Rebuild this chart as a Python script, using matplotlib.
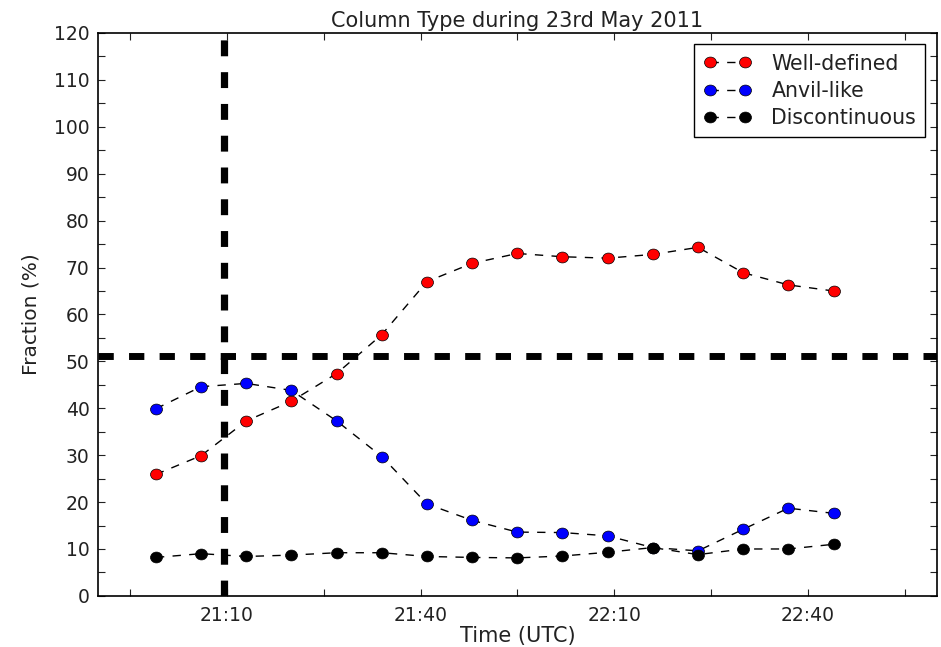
import matplotlib
matplotlib.use("Agg")
import matplotlib.pyplot as plt
from matplotlib.path import Path
from matplotlib.transforms import Affine2D
from matplotlib.ticker import FixedLocator, FuncFormatter

plt.rcParams["font.family"] = ["DejaVu Sans"]

# ---- data ----
times = ["20:59", "21:06", "21:13", "21:20", "21:27", "21:34", "21:41", "21:48",
         "21:55", "22:02", "22:09", "22:16", "22:23", "22:30", "22:37", "22:44"]
well_defined = [25.9, 29.9, 37.3, 41.5, 47.4, 55.7, 67.0, 70.9,
                73.0, 72.3, 72.0, 72.8, 74.3, 68.9, 66.3, 65.0]
anvil_like = [39.9, 44.6, 45.3, 43.8, 37.3, 29.7, 19.6, 16.1,
              13.6, 13.5, 12.8, 10.3, 9.6, 14.2, 18.7, 17.6]
discontinuous = [8.2, 9.0, 8.4, 8.7, 9.2, 9.2, 8.4, 8.2,
                 8.1, 8.5, 9.3, 10.3, 8.8, 10.0, 10.0, 11.0]
threshold_time = "21:09.6"
threshold_fraction = 51.2
x_limits = ["20:50", "23:00"]
x_ticks = ["20:55", "21:10", "21:25", "21:40", "21:55", "22:10", "22:25", "22:40", "22:55"]
x_labeled = ["21:10", "21:40", "22:10", "22:40"]


def to_min(s):
    h, m = s.split(":")
    return int(h) * 60 + float(m)


x = [to_min(t) for t in times]

# slightly wide ellipse marker (reference image is horizontally stretched)
ellipse = Path.unit_circle().transformed(Affine2D().scale(1.1, 1.0))

fig = plt.figure(figsize=(9.41, 6.47), dpi=100)
ax = fig.add_axes([0.104, 0.079, 0.8915, 0.870])

series = [(well_defined, "red", "Well-defined"),
          (anvil_like, "blue", "Anvil-like"),
          (discontinuous, "black", "Discontinuous")]
for vals, col, lab in series:
    ax.plot(x, vals, linestyle=(0, (6, 6)), color="black", lw=1.0,
            marker=ellipse, markersize=8.6, markerfacecolor=col,
            markeredgecolor="black", markeredgewidth=0.5, label=lab)

ax.axhline(threshold_fraction, color="black", lw=5, linestyle=(0, (2.2, 2.2)))
ax.axvline(to_min(threshold_time), color="black", lw=5.2, linestyle=(0, (2.2, 2.2)))

ax.set_xlim(to_min(x_limits[0]), to_min(x_limits[1]))
ax.set_ylim(0, 120)

ax.xaxis.set_major_locator(FixedLocator([to_min(t) for t in x_ticks]))
lab_set = set(to_min(t) for t in x_labeled)


def xfmt(v, pos):
    if any(abs(v - l) < 1e-6 for l in lab_set):
        return "%d:%02d" % (int(v // 60), int(round(v % 60)))
    return ""


ax.xaxis.set_major_formatter(FuncFormatter(xfmt))
ax.yaxis.set_major_locator(FixedLocator(list(range(0, 121, 5))))
ax.yaxis.set_major_formatter(FuncFormatter(lambda v, p: "%d" % v if int(v) % 10 == 0 else ""))

ax.tick_params(direction="in", length=5, width=0.8, top=True, right=True,
               labelsize=13.5, pad=6, colors="#222222")
ax.tick_params(axis="x", pad=7)
for sp in ax.spines.values():
    sp.set_linewidth(1.2)

ax.set_xlabel("Time (UTC)", fontsize=15, labelpad=1, color="#222222")
ax.set_ylabel("Fraction (%)", fontsize=14.5, labelpad=10, color="#222222")
ax.set_title("Column Type during 23rd May 2011", fontsize=15, pad=4, color="#222222")

leg = ax.legend(loc="upper right", numpoints=2, fontsize=14.8, fancybox=False,
                framealpha=1, edgecolor="black", borderaxespad=0.55,
                handlelength=2.3, handletextpad=1.0, labelspacing=0.35, borderpad=0.45)
leg.get_frame().set_linewidth(1.0)
for t in leg.get_texts():
    t.set_color("#222222")

fig.savefig("out.png", dpi=100, facecolor="white")
